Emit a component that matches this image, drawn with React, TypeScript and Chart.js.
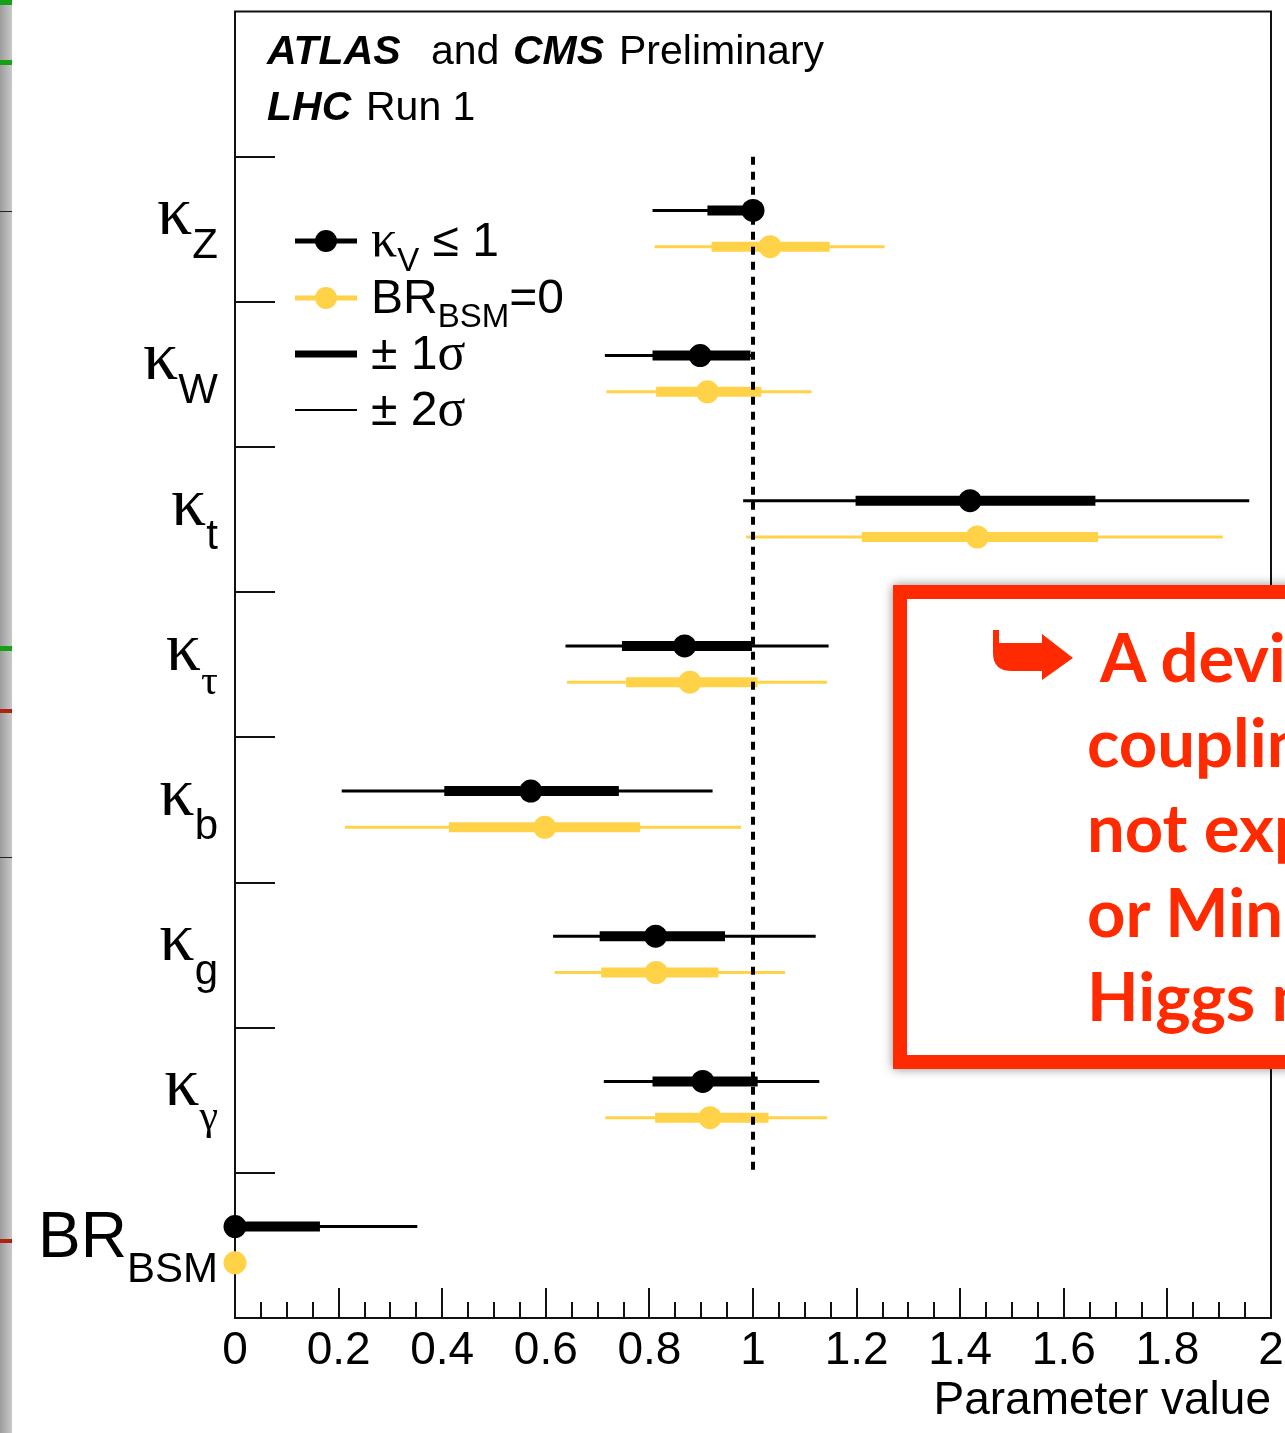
import React, { useEffect, useRef } from "react";
import { Chart, registerables } from "chart.js";

Chart.register(...registerables);

// ---------------- data ----------------
const parameterMain = ["κ", "κ", "κ", "κ", "κ", "κ", "κ", "BR"];
const parameterSub = ["Z", "W", "t", "τ", "b", "g", "γ", "BSM"];

// fit with kappa_V <= 1 (black)
const kvCentral = [1.0, 0.898, 1.419, 0.868, 0.571, 0.812, 0.903, 0.0];
const kv1SigmaLo = [0.912, 0.806, 1.198, 0.747, 0.404, 0.704, 0.806, 0.0];
const kv1SigmaHi = [1.0, 0.995, 1.661, 0.998, 0.741, 0.946, 1.009, 0.164];
const kv2SigmaLo = [0.806, 0.714, 0.981, 0.638, 0.206, 0.614, 0.712, 0.0];
const kv2SigmaHi = [1.0, 1.0, 1.958, 1.146, 0.922, 1.121, 1.128, 0.352];

// fit with BR_BSM = 0 (yellow)
const brCentral = [1.033, 0.912, 1.433, 0.878, 0.598, 0.813, 0.917, 0.0];
const br1SigmaLo = [0.92, 0.813, 1.21, 0.755, 0.413, 0.707, 0.811, null];
const br1SigmaHi = [1.148, 1.016, 1.666, 1.009, 0.782, 0.933, 1.03, null];
const br2SigmaLo = [0.81, 0.717, 0.987, 0.641, 0.212, 0.617, 0.715, null];
const br2SigmaHi = [1.254, 1.113, 1.907, 1.143, 0.977, 1.062, 1.143, null];

const xTickValues = [0, 0.2, 0.4, 0.6, 0.8, 1, 1.2, 1.4, 1.6, 1.8, 2];
const xTickLabels = ["0", "0.2", "0.4", "0.6", "0.8", "1", "1.2", "1.4", "1.6", "1.8", "2"];
const xMinorStep = 0.05;
const smValue = 1;

// ---------------- style ----------------
const FONT = '"Liberation Sans", Arial, Helvetica, sans-serif';
const GREEK = '"Liberation Serif", "Times New Roman", serif';
const BLACK = "#000000";
const YELLOW = "rgb(255,210,72)";
const ROW_BLACK = 1.37;
const ROW_YELLOW = 1.62;

type Pt = { x: number; y: number };

function intervalPoints(lo: (number | null)[], hi: (number | null)[], offset: number): Pt[] {
  const pts: Pt[] = [];
  for (let i = 0; i < lo.length; i++) {
    const l = lo[i];
    const h = hi[i];
    if (l == null || h == null) continue;
    pts.push({ x: l, y: i + offset }, { x: h, y: i + offset }, { x: NaN, y: NaN });
  }
  return pts;
}

function centralPoints(c: number[], offset: number): Pt[] {
  return c.map((v, i) => ({ x: v, y: i + offset }));
}

const isGreek = (s: string) => /^[\u0370-\u03ff]+$/.test(s);

type Run = { t: string; size: number; bold?: boolean; italic?: boolean; dy?: number; serif?: boolean; x?: number };

function drawRuns(ctx: CanvasRenderingContext2D, x: number, baseline: number, runs: Run[]) {
  let cx = x;
  for (const r of runs) {
    if (r.x != null) cx = r.x;
    const fam = r.serif || isGreek(r.t) ? GREEK : FONT;
    ctx.font = `${r.italic ? "italic " : ""}${r.bold ? "bold " : ""}${r.size}px ${fam}`;
    ctx.fillText(r.t, cx, baseline + (r.dy || 0));
    cx += ctx.measureText(r.t).width;
  }
  return cx;
}

function runsWidth(ctx: CanvasRenderingContext2D, runs: Run[]) {
  let w = 0;
  for (const r of runs) {
    const fam = r.serif || isGreek(r.t) ? GREEK : FONT;
    ctx.font = `${r.italic ? "italic " : ""}${r.bold ? "bold " : ""}${r.size}px ${fam}`;
    w += ctx.measureText(r.t).width;
  }
  return w;
}

const decorPlugin = {
  id: "decor",
  beforeDatasetsDraw(chart: any) {
    const { ctx, chartArea: a } = chart;
    const x = chart.scales.x;
    const y = chart.scales.y;
    ctx.save();
    ctx.strokeStyle = "#111";
    ctx.lineWidth = 2;
    ctx.strokeRect(a.left, a.top, a.right - a.left, a.bottom - a.top);
    ctx.beginPath();
    const nMinor = Math.round((x.max - x.min) / xMinorStep);
    for (let k = 0; k <= nMinor; k++) {
      const v = x.min + k * xMinorStep;
      const major = xTickValues.some((t) => Math.abs(t - v) < 1e-6);
      const px = Math.round(x.getPixelForValue(v));
      ctx.moveTo(px, a.bottom);
      ctx.lineTo(px, a.bottom - (major ? 30 : 16));
    }
    for (let i = 1; i <= parameterMain.length; i++) {
      const py = Math.round(y.getPixelForValue(i));
      ctx.moveTo(a.left, py);
      ctx.lineTo(a.left + 40, py);
    }
    ctx.stroke();
    ctx.restore();
  },
  afterDraw(chart: any) {
    const { ctx, chartArea: a } = chart;
    const y = chart.scales.y;
    ctx.save();
    ctx.fillStyle = "#000";
    ctx.textBaseline = "alphabetic";
    ctx.textAlign = "left";

    // header
    drawRuns(ctx, 267, 64, [
      { t: "ATLAS", size: 41, bold: true, italic: true },
      { t: "and", size: 41, x: 431 },
      { t: "CMS", size: 41, bold: true, italic: true, x: 513 },
      { t: "Preliminary", size: 41, x: 619 },
    ]);
    drawRuns(ctx, 267, 120, [
      { t: "LHC", size: 41, bold: true, italic: true },
      { t: "Run 1", size: 41, x: 366 },
    ]);

    // y labels
    const right = a.left - 17;
    for (let i = 0; i < parameterMain.length; i++) {
      const c = y.getPixelForValue(i + 1.5);
      const isBR = parameterMain[i] === "BR";
      const runs: Run[] = [
        { t: parameterMain[i], size: isBR ? 64 : 70 },
        { t: parameterSub[i], size: 42, dy: isBR ? 25 : 24 },
      ];
      const w = runsWidth(ctx, runs);
      drawRuns(ctx, right - w, c + (isBR ? 12 : 5), runs);
    }

    // legend
    const lx0 = 295;
    const lx1 = 357;
    const rows = [241, 298, 354, 410];
    const drawLegLine = (yy: number, color: string, w: number, marker: boolean) => {
      ctx.strokeStyle = color;
      ctx.lineWidth = w;
      ctx.beginPath();
      ctx.moveTo(lx0, yy);
      ctx.lineTo(lx1, yy);
      ctx.stroke();
      if (marker) {
        ctx.fillStyle = color;
        ctx.beginPath();
        ctx.arc((lx0 + lx1) / 2, yy, 11, 0, Math.PI * 2);
        ctx.fill();
      }
    };
    drawLegLine(rows[0], BLACK, 5, true);
    drawLegLine(rows[1], YELLOW, 5, true);
    drawLegLine(rows[2], BLACK, 7, false);
    drawLegLine(rows[3], BLACK, 2, false);
    ctx.fillStyle = "#000";
    const tx = 371;
    drawRuns(ctx, tx, rows[0] + 15, [
      { t: "κ", size: 52 },
      { t: "V", size: 33, dy: 15 },
      { t: " ≤ 1", size: 48 },
    ]);
    drawRuns(ctx, tx, rows[1] + 15, [
      { t: "BR", size: 48 },
      { t: "BSM", size: 33, dy: 14 },
      { t: "=0", size: 48 },
    ]);
    drawRuns(ctx, tx, rows[2] + 15, [
      { t: "± 1", size: 48 },
      { t: "σ", size: 52 },
    ]);
    drawRuns(ctx, tx, rows[3] + 15, [
      { t: "± 2", size: 48 },
      { t: "σ", size: 52 },
    ]);
    ctx.restore();
  },
};

export default function App() {
  const ref = useRef<HTMLCanvasElement>(null);

  useEffect(() => {
    const canvas = ref.current;
    if (!canvas) return;
    const nRows = parameterMain.length;
    const chart = new Chart(canvas, {
      type: "scatter",
      data: {
        datasets: [
          {
            label: "SM",
            data: [
              { x: smValue, y: 1 },
              { x: smValue, y: nRows },
            ],
            showLine: true,
            borderColor: BLACK,
            borderWidth: 4,
            borderDash: [8, 7],
            pointRadius: 0,
            order: 0,
          },
          {
            label: "kv central",
            data: centralPoints(kvCentral, ROW_BLACK),
            showLine: false,
            pointRadius: 11.5,
            pointBackgroundColor: BLACK,
            pointBorderWidth: 0,
            clip: false,
            order: 1,
          },
          {
            label: "br central",
            data: centralPoints(brCentral, ROW_YELLOW),
            showLine: false,
            pointRadius: 11.5,
            pointBackgroundColor: YELLOW,
            pointBorderWidth: 0,
            clip: false,
            order: 1,
          },
          {
            label: "kv 1sigma",
            data: intervalPoints(kv1SigmaLo, kv1SigmaHi, ROW_BLACK),
            showLine: true,
            spanGaps: false,
            borderColor: BLACK,
            borderWidth: 10,
            pointRadius: 0,
            order: 2,
          },
          {
            label: "br 1sigma",
            data: intervalPoints(br1SigmaLo, br1SigmaHi, ROW_YELLOW),
            showLine: true,
            spanGaps: false,
            borderColor: YELLOW,
            borderWidth: 10,
            pointRadius: 0,
            order: 2,
          },
          {
            label: "kv 2sigma",
            data: intervalPoints(kv2SigmaLo, kv2SigmaHi, ROW_BLACK),
            showLine: true,
            spanGaps: false,
            borderColor: BLACK,
            borderWidth: 3,
            pointRadius: 0,
            order: 3,
          },
          {
            label: "br 2sigma",
            data: intervalPoints(br2SigmaLo, br2SigmaHi, ROW_YELLOW),
            showLine: true,
            spanGaps: false,
            borderColor: YELLOW,
            borderWidth: 3,
            pointRadius: 0,
            order: 3,
          },
        ] as any,
      },
      options: {
        animation: false,
        responsive: false,
        devicePixelRatio: 1,
        events: [],
        layout: { padding: { left: 0, top: 11, right: 14, bottom: 0 } },
        plugins: { legend: { display: false }, tooltip: { enabled: false } },
        scales: {
          x: {
            type: "linear",
            min: 0,
            max: 2,
            grid: { display: false },
            border: { display: false },
            afterBuildTicks: (scale: any) => {
              scale.ticks = xTickValues.map((v) => ({ value: v }));
            },
            afterFit: (scale: any) => {
              scale.height = 115;
              scale.paddingLeft = 0;
              scale.paddingRight = 0;
            },
            ticks: {
              autoSkip: false,
              maxRotation: 0,
              padding: -2,
              color: "#000",
              font: { family: FONT, size: 46 },
              callback: (_v: any, i: number) => xTickLabels[i],
            },
            title: {
              display: true,
              text: "Parameter value",
              align: "end",
              color: "#000",
              font: { family: FONT, size: 46 },
              padding: { top: 0, bottom: 4 },
            },
          },
          y: {
            type: "linear",
            min: 0,
            max: nRows + 1,
            reverse: true,
            grid: { display: false },
            border: { display: false },
            ticks: { display: false },
            afterFit: (scale: any) => {
              scale.width = 235;
              scale.paddingTop = 0;
              scale.paddingBottom = 0;
            },
          },
        },
      } as any,
      plugins: [decorPlugin],
    });
    return () => chart.destroy();
  }, []);

  const red = "#FF2A00";
  const lineStyle: React.CSSProperties = {
    position: "absolute",
    left: 1087,
    whiteSpace: "nowrap",
    fontFamily: "Lato, 'Open Sans', sans-serif",
    fontWeight: 700,
    fontSize: 67,
    lineHeight: "85px",
    color: red,
  };

  return (
    <div
      style={{
        position: "absolute",
        left: 0,
        top: 0,
        width: 1285,
        height: 1433,
        overflow: "hidden",
        background: "#fff",
      }}
    >
      <canvas
        ref={ref}
        width={1285}
        height={1433}
        style={{ position: "absolute", left: 0, top: 0, width: 1285, height: 1433 }}
      />
      {/* remnants of the neighbouring slide on the left */}
      <div
        style={{
          position: "absolute",
          left: 0,
          top: 0,
          width: 12,
          height: 1433,
          background: "linear-gradient(to right, #9c9c9c, #c9c9c9)",
        }}
      />
      {[0, 60, 646].map((t) => (
        <div key={"g" + t} style={{ position: "absolute", left: 0, top: t, width: 12, height: 5, background: "#16a016" }} />
      ))}
      {[709, 1239].map((t) => (
        <div key={"r" + t} style={{ position: "absolute", left: 0, top: t, width: 12, height: 4, background: "#b3200f" }} />
      ))}
      {[211, 857].map((t) => (
        <div key={"k" + t} style={{ position: "absolute", left: 0, top: t, width: 12, height: 1, background: "#222" }} />
      ))}
      {/* annotation box */}
      <div
        style={{
          position: "absolute",
          left: 893,
          top: 585,
          width: 620,
          height: 484,
          boxSizing: "border-box",
          border: `14px solid ${red}`,
          background: "#fff",
          boxShadow: "0 0 10px rgba(0,0,0,0.45)",
        }}
      />
      <svg
        width={86}
        height={54}
        viewBox="0 0 86 54"
        style={{ position: "absolute", left: 990, top: 628 }}
      >
        <path d="M3 2 L9 2 L9 15 L52 15 L52 6 L83 30 L52 52 L52 43 L22 43 Q3 43 3 25 Z" fill={red} />
      </svg>
      <div style={{ ...lineStyle, top: 614, left: 1100 }}>A deviation</div>
      <div style={{ ...lineStyle, top: 699 }}>couplings</div>
      <div style={{ ...lineStyle, top: 784 }}>not expected</div>
      <div style={{ ...lineStyle, top: 869 }}>or Minimal</div>
      <div style={{ ...lineStyle, top: 953 }}>Higgs model</div>
    </div>
  );
}
